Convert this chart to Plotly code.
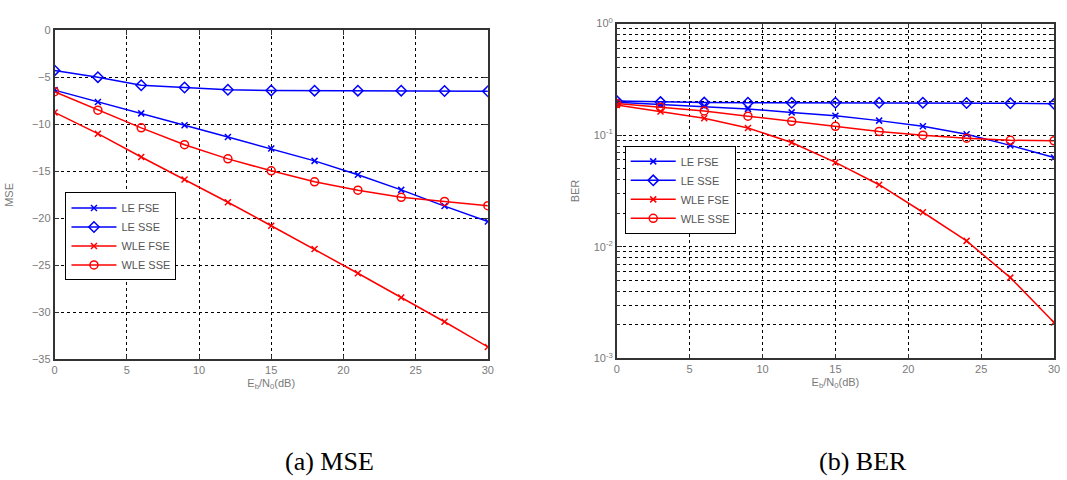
import plotly.graph_objects as go

snr = [0, 3, 6, 9, 12, 15, 18, 21, 24, 27, 30]

# MSE (dB)
mse_le_fse = [-6.36, -7.63, -8.83, -10.1, -11.34, -12.57, -13.88, -15.36, -16.97, -18.69, -20.34]
mse_le_sse = [-4.26, -4.98, -5.84, -6.08, -6.32, -6.39, -6.42, -6.42, -6.42, -6.45, -6.49]
mse_wle_fse = [-8.73, -10.99, -13.47, -15.87, -18.28, -20.78, -23.26, -25.83, -28.41, -30.99, -33.67]
mse_wle_sse = [-6.53, -8.49, -10.37, -12.16, -13.67, -14.94, -16.11, -17.0, -17.76, -18.2, -18.65]

# BER
ber_le_fse = [0.197, 0.188, 0.182, 0.172, 0.160, 0.149, 0.135, 0.120, 0.102, 0.081, 0.063]
ber_le_sse = [0.202, 0.198, 0.196, 0.195, 0.195, 0.195, 0.195, 0.195, 0.194, 0.193, 0.191]
ber_wle_fse = [0.186, 0.163, 0.142, 0.116, 0.086, 0.057, 0.036, 0.0204, 0.0113, 0.0053, 0.0021]
ber_wle_sse = [0.192, 0.178, 0.165, 0.148, 0.133, 0.120, 0.108, 0.100, 0.094, 0.090, 0.089]

names = ["LE FSE", "LE SSE", "WLE FSE", "WLE SSE"]
colors = ["#0000ff", "#0000ff", "#ff0000", "#ff0000"]
symbols = ["x-thin-open", "diamond-open", "x-thin-open", "circle-open"]
sizes = [6, 8, 6, 8]

x_ticks = [0, 5, 10, 15, 20, 25, 30]
mse_ticks = [0, -5, -10, -15, -20, -25, -30, -35]
ber_ticks = [1e-3, 1e-2, 1e-1, 1]
ber_ticktext = ["10<sup>-3</sup>", "10<sup>-2</sup>", "10<sup>-1</sup>", "10<sup>0</sup>"]
ber_minor = [m * 10.0 ** e for e in (-3, -2, -1) for m in range(2, 10)]

fig = go.Figure()

for name, col, sym, sz, ys in zip(names, colors, symbols, sizes,
                                  [mse_le_fse, mse_le_sse, mse_wle_fse, mse_wle_sse]):
    fig.add_trace(go.Scatter(x=snr, y=ys, name=name, mode="lines+markers",
                             line=dict(color=col, width=1.5),
                             marker=dict(symbol=sym, size=sz, color=col,
                                         line=dict(color=col, width=1.5)),
                             xaxis="x", yaxis="y", legend="legend"))

for name, col, sym, sz, ys in zip(names, colors, symbols, sizes,
                                  [ber_le_fse, ber_le_sse, ber_wle_fse, ber_wle_sse]):
    fig.add_trace(go.Scatter(x=snr, y=ys, name=name, mode="lines+markers",
                             line=dict(color=col, width=1.5),
                             marker=dict(symbol=sym, size=sz, color=col,
                                         line=dict(color=col, width=1.5)),
                             xaxis="x2", yaxis="y2", legend="legend2"))

W, H = 1067, 480
tickfont = dict(family="Liberation Sans, Arial, sans-serif", size=11, color="#7a7a7a")
titlefont = dict(family="Liberation Sans, Arial, sans-serif", size=11, color="#7a7a7a")
legfont = dict(family="Liberation Sans, Arial, sans-serif", size=11, color="#555555")
common = dict(showline=True, linecolor="#333333", linewidth=1.5, mirror="ticks",
              ticks="inside", ticklen=5, tickcolor="#333333",
              showgrid=True, gridcolor="black", gridwidth=1, griddash="3px,3px",
              zeroline=False, tickfont=tickfont)

fig.update_layout(
    width=W, height=H,
    margin=dict(l=0, r=0, t=0, b=0),
    paper_bgcolor="white", plot_bgcolor="white",
    xaxis=dict(domain=[52 / W, 489 / W], range=[0, 30], tickvals=x_ticks,
               anchor="y",
               title=dict(text="E<sub>b</sub>/N<sub>0</sub>(dB)", font=titlefont, standoff=4),
               **common),
    yaxis=dict(domain=[1 - 362 / H, 1 - 23 / H], range=[-35, 0], tickvals=mse_ticks,
               anchor="x",
               title=dict(text="MSE", font=titlefont, standoff=16),
               **common),
    xaxis2=dict(domain=[619 / W, 1060 / W], range=[0, 30], tickvals=x_ticks,
                anchor="y2",
                title=dict(text="E<sub>b</sub>/N<sub>0</sub>(dB)", font=titlefont, standoff=4),
                **common),
    yaxis2=dict(domain=[1 - 361 / H, 1 - 16 / H], type="log", range=[-3, 0],
                tickvals=ber_ticks, ticktext=ber_ticktext, anchor="x2",
                title=dict(text="BER", font=titlefont, standoff=12),
                minor=dict(tickvals=ber_minor, showgrid=True, gridcolor="black",
                           gridwidth=1, griddash="3px,3px", ticks="inside",
                           ticklen=3, tickcolor="#333333"),
                **common),
    legend=dict(x=63 / W, y=1 - 190 / H, xanchor="left", yanchor="top",
                bgcolor="white", bordercolor="black", borderwidth=1,
                font=legfont, tracegroupgap=0, itemwidth=45),
    legend2=dict(x=627 / W, y=1 - 142 / H, xanchor="left", yanchor="top",
                 bgcolor="white", bordercolor="black", borderwidth=1,
                 font=legfont, tracegroupgap=0, itemwidth=45),
    annotations=[
        dict(text="(a) MSE", x=329 / W, y=1 - 467 / H, xref="paper", yref="paper",
             xanchor="center", yanchor="middle", showarrow=False,
             font=dict(family="Liberation Serif, Times New Roman, serif", size=26, color="black")),
        dict(text="(b) BER", x=867 / W, y=1 - 467 / H, xref="paper", yref="paper",
             xanchor="center", yanchor="middle", showarrow=False,
             font=dict(family="Liberation Serif, Times New Roman, serif", size=26, color="black")),
    ],
)

fig.write_html("out.html", config={"displayModeBar": False},
               post_script="document.body.style.margin='0';document.body.style.overflow='hidden';")
